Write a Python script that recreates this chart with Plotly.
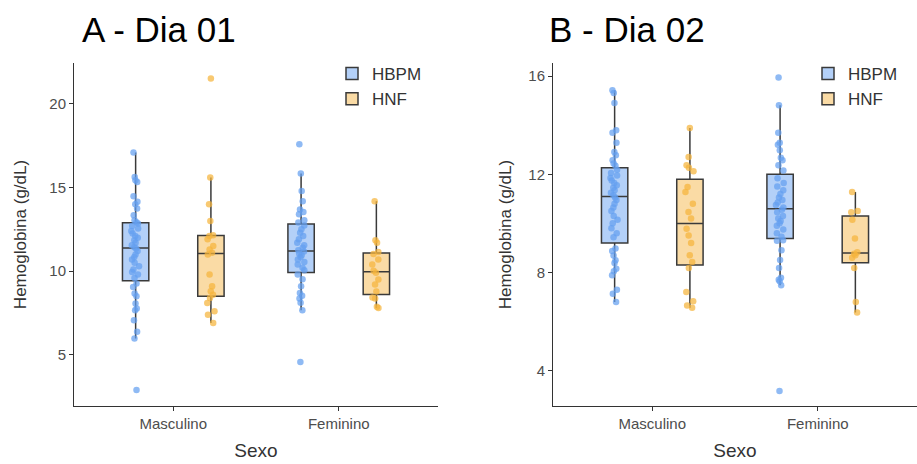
import plotly.graph_objects as go
from plotly.subplots import make_subplots

categories = ["Masculino", "Feminino"]
groups = ["HBPM", "HNF"]

# Panel A - Dia 01
a_hbpm_masc = [2.9, 5.98, 6.38, 7.07, 7.67, 7.77, 8.07, 8.51, 8.67, 9.06, 9.27,
               9.6, 9.8, 9.95, 10.1, 10.3, 10.5, 10.7, 10.85, 11.0, 11.2, 11.35,
               11.43, 11.55, 11.7, 11.85, 12.0, 12.1, 12.25, 12.4, 12.55, 12.7, 12.85,
               12.92, 13.04, 13.34, 13.74, 14.0, 14.14, 14.48, 15.33, 15.43, 15.63, 17.09]
a_hbpm_fem = [4.58, 7.67, 8.11, 8.37, 8.53, 8.7, 9.1, 9.52, 9.8,
              10.05, 10.2, 10.4, 10.55, 10.7, 10.85, 10.95, 11.05, 11.17,
              11.25, 11.4, 11.55, 11.7, 11.9, 12.1, 12.3, 12.5, 12.72,
              12.9, 13.04, 13.4, 13.54, 13.68, 14.18, 14.78, 15.83, 17.58]
a_hnf_masc = [6.9, 7.4, 7.6, 8.1, 8.4, 8.6, 8.8, 9.1, 9.8, 11.0,
              11.1, 11.3, 11.5, 11.9, 12.1, 12.15, 13.0, 14.0, 15.6, 21.5]
a_hnf_fem = [7.8, 7.87, 8.37, 8.43, 8.79, 9.2, 9.5, 9.9,
             10.02, 10.4, 10.7, 11.03, 11.15, 11.69, 11.85, 14.18]

# Panel B - Dia 02
b_hbpm_masc = [6.79, 7.13, 7.29, 7.88, 8.05, 8.15, 8.38, 8.49, 8.69, 8.87, 8.97,
               9.43, 9.6, 9.8, 10.0, 10.15, 10.3, 10.5, 10.65, 10.8, 10.95, 11.05,
               11.15, 11.25, 11.35, 11.45, 11.55, 11.65, 11.75, 11.85, 11.95, 12.05, 12.19,
               12.35, 12.44, 12.57, 12.78, 12.91, 13.29, 13.69, 13.8, 14.91, 15.32, 15.43]
b_hbpm_fem = [3.16, 7.47, 7.64, 7.7, 7.78, 8.18, 8.5, 8.9, 9.29, 9.31,
              9.45, 9.6, 9.75, 9.9, 10.0, 10.1, 10.2, 10.3, 10.45, 10.55,
              10.65, 10.75, 10.85, 10.95, 11.05, 11.2, 11.35, 11.5, 11.65, 11.84,
              12.16, 12.37, 12.57, 12.68, 12.98, 13.21, 13.29, 13.69, 14.82, 15.95]
b_hnf_masc = [6.56, 6.65, 6.82, 7.2, 8.18, 8.42, 8.7, 9.2, 9.5, 9.78,
              10.2, 10.46, 10.8, 11.28, 11.48, 12.12, 12.27, 12.37, 12.71, 13.89]
b_hnf_fem = [6.36, 6.79, 8.18, 8.6, 8.7, 8.76, 8.82, 9.38, 10.15, 10.45, 10.5, 11.28]

panel_titles = ["A - Dia 01", "B - Dia 02"]
y_ranges = [[1.95, 22.43], [2.55, 16.54]]
y_ticks = [[5, 10, 15, 20], [4, 8, 12, 16]]

data = [
    {"HBPM": (a_hbpm_masc, a_hbpm_fem), "HNF": (a_hnf_masc, a_hnf_fem)},
    {"HBPM": (b_hbpm_masc, b_hbpm_fem), "HNF": (b_hnf_masc, b_hnf_fem)},
]

styles = {
    "HBPM": dict(fill="rgba(150,190,245,0.72)", point="rgba(100,160,240,0.72)"),
    "HNF": dict(fill="rgba(248,205,130,0.72)", point="rgba(245,180,60,0.72)"),
}

W, H = 917, 464
fig = make_subplots(rows=1, cols=2)

legend_names = ["legend", "legend2"]
for p in range(2):
    for g in groups:
        masc, fem = data[p][g]
        fig.add_trace(go.Box(
            x=[categories[0]] * len(masc) + [categories[1]] * len(fem),
            y=list(masc) + list(fem),
            name=g,
            offsetgroup=g,
            legend=legend_names[p],
            boxpoints="all", jitter=0.35, pointpos=0,
            whiskerwidth=0,
            fillcolor=styles[g]["fill"],
            line=dict(color="#3a3a3a", width=1.5),
            marker=dict(color=styles[g]["point"], size=6.5, line=dict(width=0)),
        ), row=1, col=p + 1)

x_domains = [[74 / W, 438 / W], [553 / W, 1.0]]
y_domain = [1 - 406 / H, 1 - 63 / H]
y_standoffs = [18, 12]

axis_common = dict(showline=True, linecolor="#333333", linewidth=1, ticks="outside",
                   ticklen=4, tickcolor="#333333", showgrid=False, zeroline=False,
                   tickfont=dict(family="Liberation Sans", size=15, color="#4d4d4d"))

for p in range(2):
    xa = "xaxis" if p == 0 else "xaxis2"
    ya = "yaxis" if p == 0 else "yaxis2"
    fig.layout[xa].update(domain=x_domains[p], range=[-0.6, 1.6],
                          categoryorder="array", categoryarray=categories,
                          title=dict(text="Sexo", font=dict(family="Liberation Sans", size=19, color="#333333"), standoff=12),
                          **axis_common)
    fig.layout[ya].update(domain=y_domain, range=y_ranges[p], tickvals=y_ticks[p],
                          title=dict(text="Hemoglobina (g/dL)", font=dict(family="Liberation Sans", size=17, color="#333333"),
                                     standoff=y_standoffs[p]),
                          **axis_common)

annotations = []
for p in range(2):
    annotations.append(dict(text=panel_titles[p], xref="paper", yref="paper",
                            x=(80 if p == 0 else 547) / W, y=1 - 29 / H,
                            xanchor="left", yanchor="middle", showarrow=False,
                            font=dict(family="Liberation Sans", size=35, color="#000000")))

legend_style = dict(font=dict(family="Liberation Sans", size=17, color="#333333"),
                    bgcolor="rgba(0,0,0,0)", xanchor="left", yanchor="top",
                    y=1 - 56 / H, tracegroupgap=0, itemwidth=30)

fig.update_layout(
    width=W, height=H, margin=dict(l=0, r=0, t=0, b=0),
    paper_bgcolor="white", plot_bgcolor="white",
    boxmode="group", boxgap=0.09, boxgroupgap=0.65,
    annotations=annotations,
    legend=dict(x=332 / W, **legend_style),
    legend2=dict(x=808 / W, **legend_style),
    showlegend=True,
)

fig.write_html("out.html")
